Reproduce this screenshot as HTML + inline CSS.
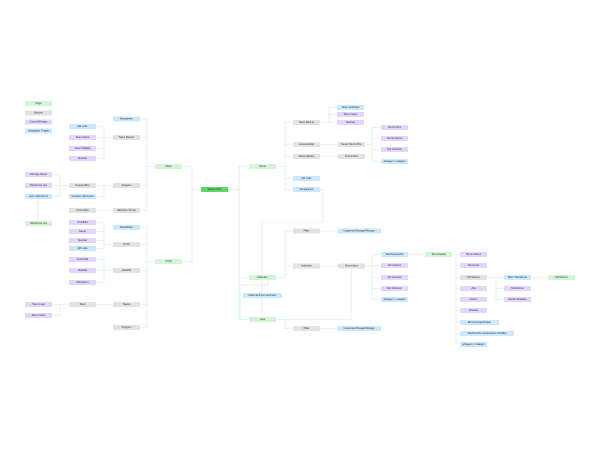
<!DOCTYPE html>
<html><head><meta charset="utf-8"><style>
html,body{margin:0;padding:0;background:#fff;width:600px;height:449px;overflow:hidden}
svg{display:block}
text{font-family:"Liberation Sans",sans-serif;font-size:2.6px;fill:#333;text-anchor:middle;dominant-baseline:central}
.e{fill:none;stroke:#cfeed4;stroke-width:0.6}
.d{fill:none;stroke:#f7b6e4;stroke-width:0.6;stroke-dasharray:1.5 1}
.g{fill:#d2f5d6}.m{fill:#e2e2e2}.p{fill:#e4d5ff}.b{fill:#cce8ff}.s{fill:#5dd66b}
</style></head><body>
<svg width="600" height="449" viewBox="0 0 600 449">
<g>
<!-- edges left -->
<path class="e" d="M155 166.5H147V119H140M147 137.5H140M147 166.5V210.5H140M147 185.5H140"/>
<path class="e" d="M113 137.5H104V126.5H96M104 137.5H96M104 137.5V158.5H96M104 148.5H96"/>
<path class="e" d="M113 185.5H104H96M104 185.5V196.5H96"/>
<path class="e" d="M69 185.5H60V174.5H52M60 185.5H52M60 185.5V196.5H52"/>
<path class="e" d="M113 210.5H96"/>
<path class="e" d="M201 189.5H192V166.5H182M192 189.5V261.5H182"/>
<path class="e" d="M155 261.5H147V227.5H140M147 244.5H140M147 270.5H140M147 261.5V327.5H140M147 304.5H140"/>
<path class="e" d="M113 244.5H104V222.5H96M104 231.5H96M104 240.5H96M104 244.5V248.5H96"/>
<path class="e" d="M113 270.5H104V259.5H96M104 270.5H96M104 270.5V282.5H96"/>
<path class="e" d="M113 304.5H96M69 304.5H60H52M60 304.5V315.5H52"/>
<!-- edges right -->
<path class="e" d="M228 189.5H239V166.5H249M239 189.5V319.5H249M239 277.5H249"/>
<path class="e" d="M276 166.5H285V122.5H293M285 144.5H293M285 156.5H293M285 166.5V189.5H293M285 178.5H293"/>
<path class="e" d="M320 122.5H329V107.5H337M329 114.5H337M329 122.5H337"/>
<path class="e" d="M320 144.5H338M320 156.5H338"/>
<path class="e" d="M364 144.5H372V127.5H381M372 138.5H381M372 149.5H381M372 144.5V161.5H381"/>
<path class="e" d="M276 277.5H285V231H293M285 266H293"/>
<path class="e" d="M320 231H337M320 266H338M320 328.5H337"/>
<path class="e" d="M268 280V285H240V319.5M276 319.5H285V328.5H293M285 319.5H351V269"/>
<path class="e" d="M364 266H372V254.5H381M372 265.5H381M372 277.5H381M372 288.5H381M372 266V299.5H381"/>
<path class="e" d="M452 254.5H456V343H460M456 254.5H460M456 265.5H460M456 277.5H460M456 288.5H460M456 299.5H460M456 310.5H460M456 322.5H460M456 333.5H460"/>
<path class="e" d="M487 277.5H496H504M496 277.5V299.5H504M496 288.5H504"/>
<path class="d" d="M38 199V221M320 189.5H323V222H262V275M262 280V317M408 254.5H425M531 277.5H548"/>
</g>
<g>
<rect class="g" x="25" y="101" width="27" height="5"/><text x="38.5" y="103.5">Page</text>
<rect class="m" x="25" y="110.5" width="27" height="5"/><text x="38.5" y="113">Module</text>
<rect class="p" x="25" y="119.5" width="27" height="5"/><text x="38.5" y="122">Content/Display</text>
<rect class="b" x="25" y="128.5" width="27" height="5"/><text x="38.5" y="131">Navigation Trigger</text>

<rect class="b" x="113" y="116.5" width="27" height="5"/><text x="126.5" y="119">Bearbeiten</text>
<rect class="b" x="69" y="124" width="27" height="5"/><text x="82.5" y="126.5">QR code</text>
<rect class="m" x="113" y="135" width="27" height="5"/><text x="126.5" y="137.5">Team Banner</text>
<rect class="p" x="69" y="135" width="27" height="5"/><text x="82.5" y="137.5">Team Name</text>
<rect class="p" x="69" y="146" width="27" height="5"/><text x="82.5" y="148.5">Team Mitglied</text>
<rect class="p" x="69" y="156" width="27" height="5"/><text x="82.5" y="158.5">Sportart</text>
<rect class="g" x="155" y="164" width="27" height="5"/><text x="168.5" y="166.5">Team</text>
<rect class="p" x="25" y="172" width="27" height="5"/><text x="38.5" y="174.5">Anzeige Name</text>
<rect class="p" x="25" y="183" width="27" height="5"/><text x="38.5" y="185.5">Teilnehmer List</text>
<rect class="b" x="25" y="194" width="27" height="5"/><text x="38.5" y="196.5">mehr Teilnehmer</text>
<rect class="m" x="69" y="183" width="27" height="5"/><text x="82.5" y="185.5">GruppenBox</text>
<rect class="m" x="113" y="183" width="27" height="5"/><text x="126.5" y="185.5">Gruppen</text>
<rect class="b" x="69" y="194" width="27" height="5"/><text x="82.5" y="196.5">Gruppen Wechseln</text>
<rect class="m" x="69" y="208" width="27" height="5"/><text x="82.5" y="210.5">Tennis Box</text>
<rect class="m" x="113" y="208" width="27" height="5"/><text x="126.5" y="210.5">Nächstes Termin</text>
<rect class="g" x="25" y="221" width="27" height="5"/><text x="38.5" y="223.5">Teilnehmer List</text>

<rect class="p" x="69" y="220" width="27" height="5"/><text x="82.5" y="222.5">Profilbild</text>
<rect class="p" x="69" y="229" width="27" height="5"/><text x="82.5" y="231.5">Name</text>
<rect class="p" x="69" y="238" width="27" height="5"/><text x="82.5" y="240.5">Sportart</text>
<rect class="b" x="69" y="246" width="27" height="5"/><text x="82.5" y="248.5">QR code</text>
<rect class="b" x="113" y="225" width="27" height="5"/><text x="126.5" y="227.5">Bearbeiten</text>
<rect class="m" x="113" y="242" width="27" height="5"/><text x="126.5" y="244.5">Profil</text>
<rect class="g" x="155" y="259" width="27" height="5"/><text x="168.5" y="261.5">Profil</text>
<rect class="p" x="69" y="257" width="27" height="5"/><text x="82.5" y="259.5">Fortschritt</text>
<rect class="p" x="69" y="268" width="27" height="5"/><text x="82.5" y="270.5">Aktivität</text>
<rect class="m" x="113" y="268" width="27" height="5"/><text x="126.5" y="270.5">Aktivität</text>
<rect class="p" x="69" y="280" width="27" height="5"/><text x="82.5" y="282.5">Motivation</text>
<rect class="p" x="25" y="302" width="27" height="5"/><text x="38.5" y="304.5">Team Logo</text>
<rect class="m" x="69" y="302" width="27" height="5"/><text x="82.5" y="304.5">Team</text>
<rect class="m" x="113" y="302" width="27" height="5"/><text x="126.5" y="304.5">Teams</text>
<rect class="p" x="25" y="313" width="27" height="5"/><text x="38.5" y="315.5">Team Name</text>
<rect class="m" x="113" y="325" width="27" height="5"/><text x="126.5" y="327.5">Gruppen</text>

<rect class="s" x="201" y="187" width="27" height="5"/><text x="214.5" y="189.5">Spieler Plus</text>
<rect class="g" x="249" y="164" width="27" height="5"/><text x="262.5" y="166.5">Home</text>
<rect class="m" x="293" y="120" width="27" height="5"/><text x="306.5" y="122.5">Team Banner</text>
<rect class="b" x="337" y="105" width="27" height="5"/><text x="350.5" y="107.5">Team wechseln</text>
<rect class="p" x="337" y="112" width="27" height="5"/><text x="350.5" y="114.5">Team Name</text>
<rect class="p" x="337" y="120" width="27" height="5"/><text x="350.5" y="122.5">Sportart</text>
<rect class="m" x="293" y="142" width="27" height="5"/><text x="306.5" y="144.5">Anwesenheit</text>
<rect class="m" x="338" y="142" width="27" height="5"/><text x="351.5" y="144.5">Neuer Termin Box</text>
<rect class="m" x="293" y="154" width="27" height="5"/><text x="306.5" y="156.5">Deine Woche</text>
<rect class="m" x="338" y="154" width="27" height="5"/><text x="351.5" y="156.5">Termin Box</text>
<rect class="p" x="381" y="125" width="27" height="5"/><text x="394.5" y="127.5">Termin kurz</text>
<rect class="p" x="381" y="136" width="27" height="5"/><text x="394.5" y="138.5">Termin Name</text>
<rect class="p" x="381" y="147" width="27" height="5"/><text x="394.5" y="149.5">Zeit &amp; Datum</text>
<rect class="b" x="381" y="159" width="27" height="5"/><text x="394.5" y="161.5">absagen / zusagen</text>
<rect class="b" x="293" y="176" width="27" height="5"/><text x="306.5" y="178.5">QR code</text>
<rect class="b" x="293" y="187" width="27" height="5"/><text x="306.5" y="189.5">Neuigkeiten</text>

<rect class="m" x="293" y="228.5" width="27" height="5"/><text x="306.5" y="231">Filter</text>
<rect class="b" x="337" y="228.5" width="44" height="5"/><text x="359" y="231">Ungelesen/Zusage/Absage</text>
<rect class="m" x="293" y="263.5" width="27" height="5"/><text x="306.5" y="266">Kalender</text>
<rect class="m" x="338" y="263.5" width="27" height="5"/><text x="351.5" y="266">Termin Box</text>
<rect class="g" x="249" y="275" width="27" height="5"/><text x="262.5" y="277.5">Kalender</text>
<rect class="b" x="243" y="293" width="39" height="5"/><text x="262.5" y="295.5">Kalender/Liste wechseln</text>
<rect class="g" x="249" y="317" width="27" height="5"/><text x="262.5" y="319.5">Liste</text>
<rect class="m" x="293" y="326" width="27" height="5"/><text x="306.5" y="328.5">Filter</text>
<rect class="b" x="337" y="326" width="44" height="5"/><text x="359" y="328.5">Ungelesen/Zusage/Absage</text>

<rect class="b" x="381" y="252" width="27" height="5"/><text x="394.5" y="254.5">Wochenansicht</text>
<rect class="g" x="425" y="252" width="27" height="5"/><text x="438.5" y="254.5">Termindetail</text>
<rect class="p" x="381" y="263" width="27" height="5"/><text x="394.5" y="265.5">Terminkreis</text>
<rect class="p" x="381" y="275" width="27" height="5"/><text x="394.5" y="277.5">Terminname</text>
<rect class="p" x="381" y="286" width="27" height="5"/><text x="394.5" y="288.5">Zeit &amp; Datum</text>
<rect class="b" x="381" y="297" width="27" height="5"/><text x="394.5" y="299.5">absagen / zusagen</text>
<rect class="p" x="460" y="252" width="27" height="5"/><text x="473.5" y="254.5">Termin Name</text>
<rect class="p" x="460" y="263" width="27" height="5"/><text x="473.5" y="265.5">Termin Art</text>
<rect class="m" x="460" y="275" width="27" height="5"/><text x="473.5" y="277.5">Teilnehmer</text>
<rect class="p" x="460" y="286" width="27" height="5"/><text x="473.5" y="288.5">Zeit</text>
<rect class="p" x="460" y="297" width="27" height="5"/><text x="473.5" y="299.5">Datum</text>
<rect class="p" x="460" y="308" width="27" height="5"/><text x="473.5" y="310.5">Adresse</text>
<rect class="b" x="460" y="320" width="39" height="5"/><text x="479.5" y="322.5">Erinnerungsschalter</text>
<rect class="b" x="460" y="331" width="54" height="5"/><text x="487" y="333.5">Wöchentlich wiederholen Schalter</text>
<rect class="b" x="460" y="342" width="27" height="5"/><text x="473.5" y="344.5">absagen / zusagen</text>
<rect class="b" x="504" y="275" width="27" height="5"/><text x="517.5" y="277.5">Mehr Teilnehmer</text>
<rect class="p" x="504" y="286" width="27" height="5"/><text x="517.5" y="288.5">Teilnehmer</text>
<rect class="p" x="504" y="297" width="27" height="5"/><text x="517.5" y="299.5">Nie/Zu Einladen</text>
<rect class="g" x="548" y="275" width="27" height="5"/><text x="561.5" y="277.5">Teilnehmer</text>
</g>
</svg>
</body></html>
